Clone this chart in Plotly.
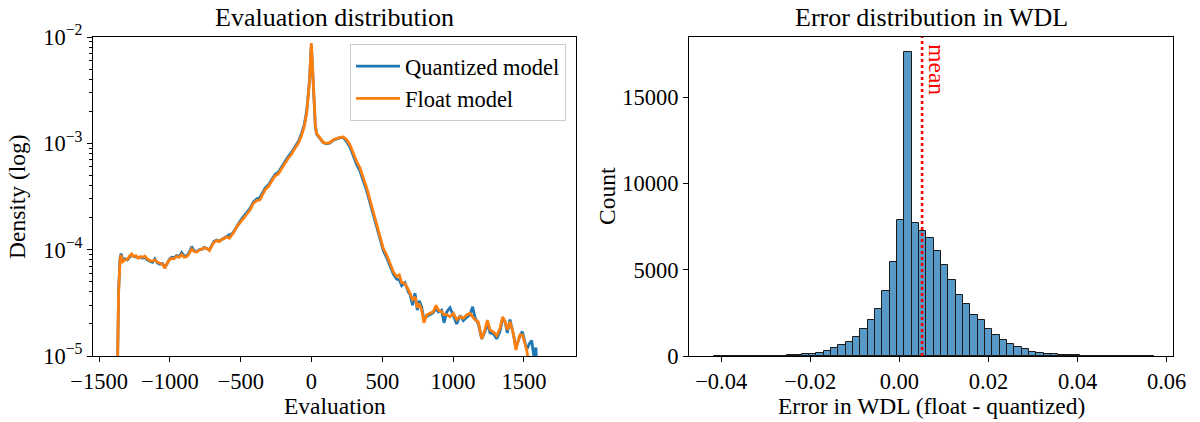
import numpy as np
import plotly.graph_objects as go

# ---------------- data: evaluation density (left) ----------------
eval_x = [-1372, -1362, -1352, -1345, -1333, -1317, -1300, -1286, -1270, -1258, -1240, -1223,
          -1206, -1193, -1176, -1160, -1141, -1122, -1106, -1089, -1070, -1052, -1035, -1023,
          -1004, -988, -971, -952, -934, -917, -900, -881, -863, -846, -830, -811, -792, -776,
          -759, -740, -721, -705, -689, -670, -651, -635, -618, -599, -580, -564, -547, -528,
          -510, -493, -470, -452, -434, -411, -387, -364, -345, -328, -305, -281, -258, -234,
          -211, -187, -164, -140, -117, -93, -69, -51, -34, -22, -13, -6, -1, 4, 11, 18, 27,
          36, 60, 84, 107, 131, 154, 178, 201, 225, 248, 272, 295, 319, 342, 366, 390, 413,
          437, 460, 484, 507, 531, 554, 578, 601, 620, 637, 660, 684, 696, 714, 731, 747, 761,
          778, 794, 813, 837, 860, 879, 896, 919, 936, 955, 978, 1002, 1025, 1049, 1072, 1096,
          1119, 1138, 1155, 1178, 1202, 1225, 1242, 1261, 1284, 1308, 1331, 1350, 1367, 1383,
          1402, 1425, 1444, 1461, 1472, 1489, 1508, 1520, 1538, 1555, 1570, 1585, 1595]

float_density = [5e-6, 4.0e-5, 8.0e-5, 8.9e-5, 7.7e-5, 8.0e-5, 8.1e-5, 8.7e-5, 9.1e-5, 8.6e-5, 8.8e-5, 8.3e-5,
                 8.6e-5, 8.5e-5, 8.7e-5, 8.2e-5, 7.9e-5, 7.8e-5, 8.0e-5, 7.65e-5, 7.45e-5, 7.3e-5, 6.7e-5, 7.35e-5,
                 8.0e-5, 8.3e-5, 8.2e-5, 8.6e-5, 8.5e-5, 9.0e-5, 8.5e-5, 8.6e-5, 9.2e-5, 1.02e-4, 9.6e-5, 9.5e-5, 9.9e-5, 1.01e-4,
                 1.04e-4, 1.03e-4, 9.8e-5, 1.08e-4, 1.17e-4, 1.22e-4, 1.19e-4, 1.25e-4, 1.27e-4, 1.32e-4, 1.28e-4, 1.37e-4, 1.47e-4, 1.64e-4,
                 1.77e-4, 1.90e-4, 2.05e-4, 2.2e-4, 2.36e-4, 2.73e-4, 2.89e-4, 2.94e-4, 3.27e-4, 3.65e-4, 3.92e-4, 4.37e-4, 4.93e-4, 5.15e-4,
                 5.83e-4, 6.5e-4, 7.24e-4, 7.95e-4, 8.99e-4, 1.0e-3, 1.2e-3, 1.44e-3, 1.92e-3, 2.75e-3, 3.94e-3, 6.5e-3, 8.75e-3, 6.5e-3, 3.94e-3, 2.21e-3, 1.49e-3,
                 1.24e-3, 1.12e-3, 1.02e-3, 1.0e-3, 1.02e-3, 1.08e-3, 1.12e-3, 1.14e-3, 1.15e-3, 1.08e-3, 9.66e-4, 8.06e-4, 6.72e-4, 5.9e-4, 4.75e-4, 3.8e-4, 2.94e-4,
                 2.25e-4, 1.7e-4, 1.32e-4, 1.03e-4, 8.9e-5, 7.45e-5, 6.2e-5, 5.6e-5, 5.8e-5, 4.9e-5, 4.8e-5, 4.2e-5, 3.9e-5, 3.4e-5, 3.6e-5, 2.85e-5, 3.1e-5,
                 2.7e-5, 2.05e-5, 2.43e-5, 2.52e-5, 2.61e-5, 3.0e-5, 2.71e-5, 2.61e-5, 2.45e-5, 2.45e-5, 2.34e-5, 2.52e-5, 2.2e-5, 2.34e-5, 2.26e-5, 2.43e-5,
                 2.52e-5, 2.34e-5, 2.2e-5, 2.1e-5, 1.45e-5, 1.76e-5, 2.18e-5, 1.76e-5, 1.69e-5, 1.55e-5, 1.82e-5, 2.34e-5, 2.1e-5, 1.76e-5,
                 2.1e-5, 1.63e-5, 1.14e-5, 1.42e-5, 1.58e-5, 1.58e-5, 1.32e-5, 1.14e-5, 8e-6, 5e-6, None, None, None]

quant_density = [5e-6, 4.2e-5, 8.3e-5, 9.2e-5, 8.0e-5, 8.2e-5, 8.0e-5, 8.5e-5, 9.0e-5, 8.7e-5, 8.6e-5, 8.4e-5,
                 8.5e-5, 8.3e-5, 8.5e-5, 8.0e-5, 7.8e-5, 7.6e-5, 8.2e-5, 7.5e-5, 7.3e-5, 7.4e-5, 6.9e-5, 7.2e-5,
                 8.1e-5, 8.5e-5, 8.4e-5, 8.8e-5, 8.6e-5, 9.4e-5, 8.7e-5, 8.8e-5, 9.4e-5, 1.07e-4, 9.8e-5, 9.6e-5, 1.0e-4, 1.0e-4,
                 1.05e-4, 1.02e-4, 1.0e-4, 1.09e-4, 1.19e-4, 1.23e-4, 1.2e-4, 1.24e-4, 1.29e-4, 1.33e-4, 1.38e-4, 1.40e-4, 1.49e-4, 1.66e-4,
                 1.80e-4, 1.95e-4, 2.12e-4, 2.28e-4, 2.45e-4, 2.8e-4, 3.0e-4, 3.1e-4, 3.4e-4, 3.8e-4, 4.05e-4, 4.55e-4, 5.1e-4, 5.35e-4,
                 6.05e-4, 6.75e-4, 7.5e-4, 8.25e-4, 9.3e-4, 1.04e-3, 1.25e-3, 1.5e-3, 2.0e-3, 2.85e-3, 4.05e-3, 6.4e-3, 8.3e-3, 6.2e-3, 3.8e-3, 2.15e-3, 1.45e-3,
                 1.22e-3, 1.1e-3, 1.01e-3, 0.99e-3, 1.01e-3, 1.07e-3, 1.11e-3, 1.13e-3, 1.13e-3, 1.04e-3, 9.2e-4, 7.6e-4, 6.3e-4, 5.5e-4, 4.45e-4, 3.55e-4, 2.75e-4,
                 2.1e-4, 1.58e-4, 1.24e-4, 9.8e-5, 8.4e-5, 7.0e-5, 5.9e-5, 5.3e-5, 5.2e-5, 4.6e-5, 4.9e-5, 4.0e-5, 3.8e-5, 3.0e-5, 3.9e-5, 2.7e-5, 3.3e-5,
                 2.9e-5, 2.2e-5, 2.35e-5, 2.45e-5, 2.55e-5, 2.8e-5, 2.6e-5, 2.7e-5, 2.05e-5, 2.6e-5, 2.85e-5, 2.4e-5, 2.0e-5, 2.4e-5, 2.15e-5, 2.3e-5,
                 2.45e-5, 2.9e-5, 2.3e-5, 2.0e-5, 1.45e-5, 1.7e-5, 2.05e-5, 1.65e-5, 1.62e-5, 1.45e-5, 1.7e-5, 2.25e-5, 2.1e-5, 1.65e-5,
                 2.2e-5, 1.62e-5, 1.2e-5, 1.4e-5, 1.55e-5, 1.7e-5, 1.3e-5, 1.15e-5, 1.3e-5, 1.4e-5, 1.0e-5, 1.2e-5, 6e-6]

log_tick_vals = [1e-5, 1e-4, 1e-3, 1e-2]
log_tick_text = ["10<sup>\u22125</sup>", "10<sup>\u22124</sup>", "10<sup>\u22123</sup>", "10<sup>\u22122</sup>"]

# ---------------- data: WDL error histogram (right) ----------------
BIN_LO = -0.0417
BIN_HI = 0.0571
err_counts = [1, 1, 2, 3, 5, 7, 10, 14, 20, 28, 40, 60, 100, 140, 200, 295, 435, 620, 790, 1100,
              1550, 2060, 2730, 3770, 5445, 7900, 17590, 7700, 7220, 6860, 6080, 5295, 4390, 3560,
              3010, 2390, 2060, 1560, 1245, 940, 695, 510, 385, 255, 175, 115, 90, 65, 45, 30,
              22, 15, 10, 7, 5, 4, 3, 2, 1, 1]
err_mean = 0.0051

FONT = "Liberation Serif"
FS_TICK = 22.5
FS_LABEL = 23.5
FS_TITLE = 26
FS_LEG = 22.5

edges = np.linspace(BIN_LO, BIN_HI, len(err_counts) + 1)
centers = (edges[:-1] + edges[1:]) / 2
bw = edges[1] - edges[0]

fig = go.Figure()
fig.add_trace(go.Scatter(x=eval_x, y=quant_density, mode="lines", name="Quantized model",
                         line=dict(color="#1f77b4", width=2.8), xaxis="x", yaxis="y"))
fig.add_trace(go.Scatter(x=eval_x, y=float_density, mode="lines", name="Float model",
                         line=dict(color="#ff7f0e", width=2.8), xaxis="x", yaxis="y"))
fig.add_trace(go.Bar(x=centers, y=err_counts, width=bw, showlegend=False,
                     marker=dict(color="rgba(31,119,180,0.75)", line=dict(color="#1a1a1a", width=1)),
                     xaxis="x2", yaxis="y2"))

axis_common = dict(showline=True, linecolor="black", linewidth=1, mirror=True, showgrid=False,
                   zeroline=False, ticks="outside", ticklen=5, tickwidth=1, tickcolor="black",
                   automargin=False,
                   tickfont=dict(family=FONT, size=FS_TICK, color="black"))

minor_vals = [k * 10.0 ** d for d in (-5, -4, -3) for k in range(2, 10)]

fig.update_layout(
    width=1200, height=422, margin=dict(l=0, r=0, t=0, b=0, autoexpand=False),
    paper_bgcolor="white", plot_bgcolor="white", bargap=0,
    font=dict(family=FONT, size=FS_TICK, color="black"),
    xaxis=dict(domain=[93 / 1200, 576 / 1200], range=[-1543, 1868], dtick=500, tick0=0,
               anchor="y", **axis_common),
    yaxis=dict(domain=[66 / 422, 385 / 422], type="log", range=[-5, -2],
               tickmode="array", tickvals=log_tick_vals, ticktext=log_tick_text, anchor="x",
               minor=dict(tickmode="array", tickvals=minor_vals, ticks="outside", ticklen=3,
                          tickcolor="black", tickwidth=1),
               **axis_common),
    xaxis2=dict(domain=[689 / 1200, 1173 / 1200], range=[-0.04723, 0.06142], dtick=0.02, tick0=0,
                tickformat=".2f", anchor="y2", **axis_common),
    yaxis2=dict(domain=[66 / 422, 385 / 422], range=[0, 18476], dtick=5000, tick0=0,
                tickformat="d", anchor="x2", **axis_common),
    legend=dict(x=566 / 1200, xanchor="right", y=1 - 44 / 422, yanchor="top",
                bgcolor="rgba(255,255,255,0.85)", bordercolor="#cccccc", borderwidth=1,
                font=dict(family=FONT, size=FS_LEG, color="black"), itemwidth=44,
                tracegroupgap=0),
)

fig.add_shape(type="line", xref="x2", yref="y2 domain", x0=err_mean, x1=err_mean, y0=0, y1=1,
              line=dict(color="red", width=2.6, dash="dot"))

ann = [
    dict(text="Evaluation distribution", x=334.5 / 1200, y=1 - 17 / 422, size=FS_TITLE),
    dict(text="Error distribution in WDL", x=931 / 1200, y=1 - 17 / 422, size=FS_TITLE),
    dict(text="Evaluation", x=334.5 / 1200, y=1 - 406 / 422, size=FS_LABEL),
    dict(text="Error in WDL (float - quantized)", x=931 / 1200, y=1 - 406 / 422, size=FS_LABEL),
    dict(text="Density (log)", x=17 / 1200, y=1 - 197 / 422, size=FS_LABEL, textangle=-90),
    dict(text="Count", x=607 / 1200, y=1 - 196 / 422, size=FS_LABEL, textangle=-90),
]
for a in ann:
    size = a.pop("size")
    fig.add_annotation(xref="paper", yref="paper", showarrow=False, xanchor="center",
                       yanchor="middle", font=dict(family=FONT, size=size, color="black"), **a)

fig.add_annotation(text="mean", xref="x2", yref="y2 domain", x=err_mean, y=0.985,
                   xanchor="left", yanchor="top", textangle=90, showarrow=False, xshift=0,
                   font=dict(family=FONT, size=FS_LABEL, color="red"))

fig.write_html("out.html", config={"displayModeBar": False},
               post_script="document.body.style.margin='0px';document.body.style.padding='0px';")
